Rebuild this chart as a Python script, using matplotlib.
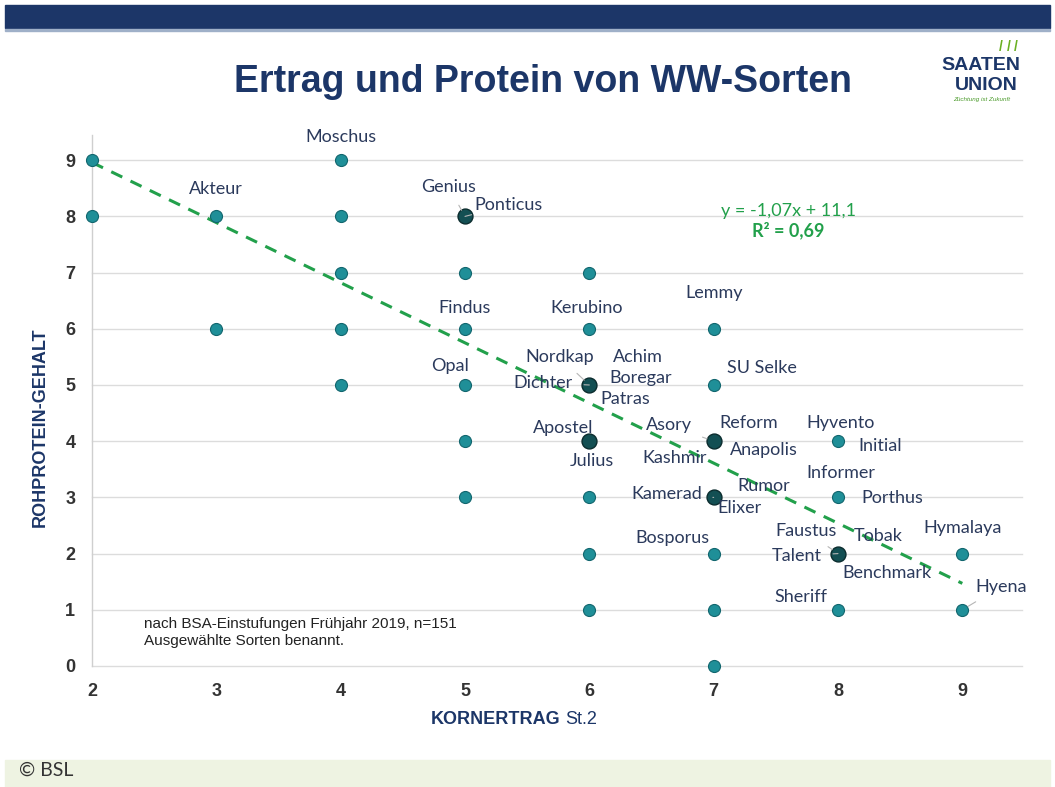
import numpy as np
import matplotlib.pyplot as plt
from matplotlib.patches import Rectangle

# points (KORNERTRAG, ROHPROTEIN); "stacked" = several varieties on one spot
ertrag = [2, 2, 3, 3, 4, 4, 4, 4, 4, 5, 5, 5, 5, 5, 5,
          6, 6, 6, 6, 6, 6, 6, 7, 7, 7, 7, 7, 7, 7, 8, 8, 8, 8, 9, 9]
protein = [9, 8, 8, 6, 9, 8, 7, 6, 5, 8, 7, 6, 5, 4, 3,
           7, 6, 5, 4, 3, 2, 1, 6, 5, 4, 3, 2, 1, 0, 4, 3, 2, 1, 2, 1]
stacked = [(5, 8), (6, 5), (6, 4), (7, 4), (7, 3), (8, 2)]

slope, intercept, r2 = -1.07, 11.1, 0.69

# variety names and where their labels sit
names = ['Moschus', 'Akteur', 'Genius', 'Ponticus', 'Findus', 'Kerubino', 'Lemmy',
         'Opal', 'Nordkap', 'Achim', 'SU Selke', 'Dichter', 'Boregar', 'Patras',
         'Apostel', 'Asory', 'Reform', 'Hyvento', 'Initial', 'Anapolis', 'Julius',
         'Kashmir', 'Informer', 'Rumor', 'Kamerad', 'Elixer', 'Porthus', 'Faustus',
         'Tobak', 'Hymalaya', 'Bosporus', 'Talent', 'Benchmark', 'Hyena', 'Sheriff']
lab_x = [4.0, 3.0, 4.87, 5.35, 5.0, 5.98, 7.0, 4.88, 5.76, 6.39, 7.39, 5.63, 6.41, 6.29,
         5.79, 6.64, 7.28, 8.02, 8.34, 7.40, 6.02, 6.69, 8.02, 7.40, 6.62, 7.21, 8.44,
         7.74, 8.32, 9.0, 6.67, 7.67, 8.39, 9.31, 7.70]
lab_y = [9.42, 8.49, 8.52, 8.2, 6.37, 6.37, 6.64, 5.34, 5.5, 5.5, 5.3, 5.04, 5.12, 4.75,
         4.23, 4.29, 4.32, 4.32, 3.91, 3.84, 3.65, 3.70, 3.43, 3.20, 3.06, 2.81, 2.99,
         2.40, 2.31, 2.46, 2.28, 1.96, 1.65, 1.41, 1.23]
leader = {'Genius': (5, 8), 'Ponticus': (5, 8), 'Nordkap': (6, 5), 'Dichter': (6, 5),
          'Asory': (7, 4), 'Kamerad': (7, 3), 'Faustus': (8, 2), 'Talent': (8, 2),
          'Hyena': (9, 1)}

navy = '#1c3668'
teal = '#1f8f98'
green = '#22a04b'
label_col = '#2b3a5c'
lab_font = ['Lato', 'DejaVu Sans']

plt.rcParams['font.family'] = ['Liberation Sans', 'DejaVu Sans']

fig = plt.figure(figsize=(10.55, 7.87), dpi=100)
fig.patch.set_facecolor('white')

# header bar and footer strip
fig.patches.append(Rectangle((0.005, 1 - 28/787), 0.99, 23/787, transform=fig.transFigure,
                             color=navy, zorder=0))
fig.patches.append(Rectangle((0.005, 1 - 31/787), 0.99, 2/787, transform=fig.transFigure,
                             color='#9fb0c8', zorder=0))
fig.patches.append(Rectangle((0.005, 0), 0.99, 27/787, transform=fig.transFigure,
                             color='#eef3e2', zorder=0))
fig.text(0.018, 1 - 770/787, '\u00a9 BSL', fontsize=14, color='#333333', va='center',
         family=lab_font)

fig.text(0.515, 1 - 82/787, 'Ertrag und Protein von WW-Sorten', fontsize=27,
         fontweight='bold', color=navy, ha='center', va='center')

# logo
fig.text(0.93, 1 - 66/787, 'SAATEN', fontsize=14, fontweight='bold', color=navy,
         ha='center', va='center')
fig.text(0.935, 1 - 85/787, 'UNION', fontsize=14, fontweight='bold', color=navy,
         ha='center', va='center')
fig.text(0.93, 1 - 99/787, 'Züchtung ist Zukunft', fontsize=4.5, style='italic',
         color='#4a9a2a', ha='center', va='center')
for k in range(3):
    fig.text(0.949 + k*0.007, 1 - 47/787, '/', fontsize=10, color='#6ab023',
             ha='center', va='center', fontweight='bold')

ax = fig.add_axes([92/1055, 1 - 666/787, 930/1055, (666 - 134.9)/787])
ax.set_xlim(2, 9.48)
ax.set_ylim(0, 9.45)

for v in range(0, 10):
    ax.axhline(v, color='#dcdcdc', lw=1, zorder=1, clip_on=False)
ax.axvline(2, color='#cfcfcf', lw=1, zorder=1, clip_on=False)
for s in ax.spines.values():
    s.set_visible(False)

xs = np.array(ertrag)
ys = np.array(protein)
dark = np.array([(a, b) in stacked for a, b in zip(ertrag, protein)])
ax.scatter(xs[~dark], ys[~dark], s=75, color=teal, edgecolors='#12666e', linewidths=0.8,
           zorder=4, clip_on=False)
ax.scatter(xs[dark], ys[dark], s=115, color='#134f53', edgecolors='#0b2c2e', linewidths=1,
           zorder=4, clip_on=False)

tx = np.array([2, 9])
ax.plot(tx, slope*tx + intercept, ls=(0, (4, 3)), color=green, lw=2.2, zorder=3)

ax.text(7.6, 8.1, 'y = -1,07x + 11,1', color=green, fontsize=13,
        ha='center', va='center', family=lab_font)
ax.text(7.6, 7.75, 'R² = ' + f'{r2:.2f}'.replace('.', ','), color=green, fontsize=13,
        fontweight='bold', ha='center', va='center', family=lab_font)

for n, lx, ly in zip(names, lab_x, lab_y):
    if n in leader:
        ax.annotate(n, xy=leader[n], xytext=(lx, ly), fontsize=13, color=label_col,
                    ha='center', va='center', family=lab_font, zorder=5,
                    arrowprops=dict(arrowstyle='-', color='#b5b5b5', lw=0.8,
                                    shrinkA=6, shrinkB=5))
    else:
        ax.text(lx, ly, n, fontsize=13, color=label_col, ha='center', va='center',
                family=lab_font, zorder=5)

ax.text(2.42, 0.6, 'nach BSA-Einstufungen Frühjahr 2019, n=151\nAusgewählte Sorten benannt.',
        fontsize=11, color='#222222', ha='left', va='center', linespacing=1.25)

ax.set_xticks(range(2, 10))
ax.set_yticks(range(0, 10))
ax.tick_params(length=0, labelsize=13, labelcolor='#333333', pad=12)
for t in ax.get_xticklabels() + ax.get_yticklabels():
    t.set_fontweight('bold')

ax.set_ylabel('ROHPROTEIN-GEHALT', fontsize=13, fontweight='bold', color=navy)
ax.yaxis.set_label_coords(-0.047, 0.45)
fig.text(0.531, 1 - 720/787, 'KORNERTRAG', fontsize=13, fontweight='bold', color=navy,
         ha='right', va='center')
fig.text(0.536, 1 - 720/787, 'St.2', fontsize=13, color=navy, ha='left', va='center')

fig.savefig('out.png', dpi=100)
